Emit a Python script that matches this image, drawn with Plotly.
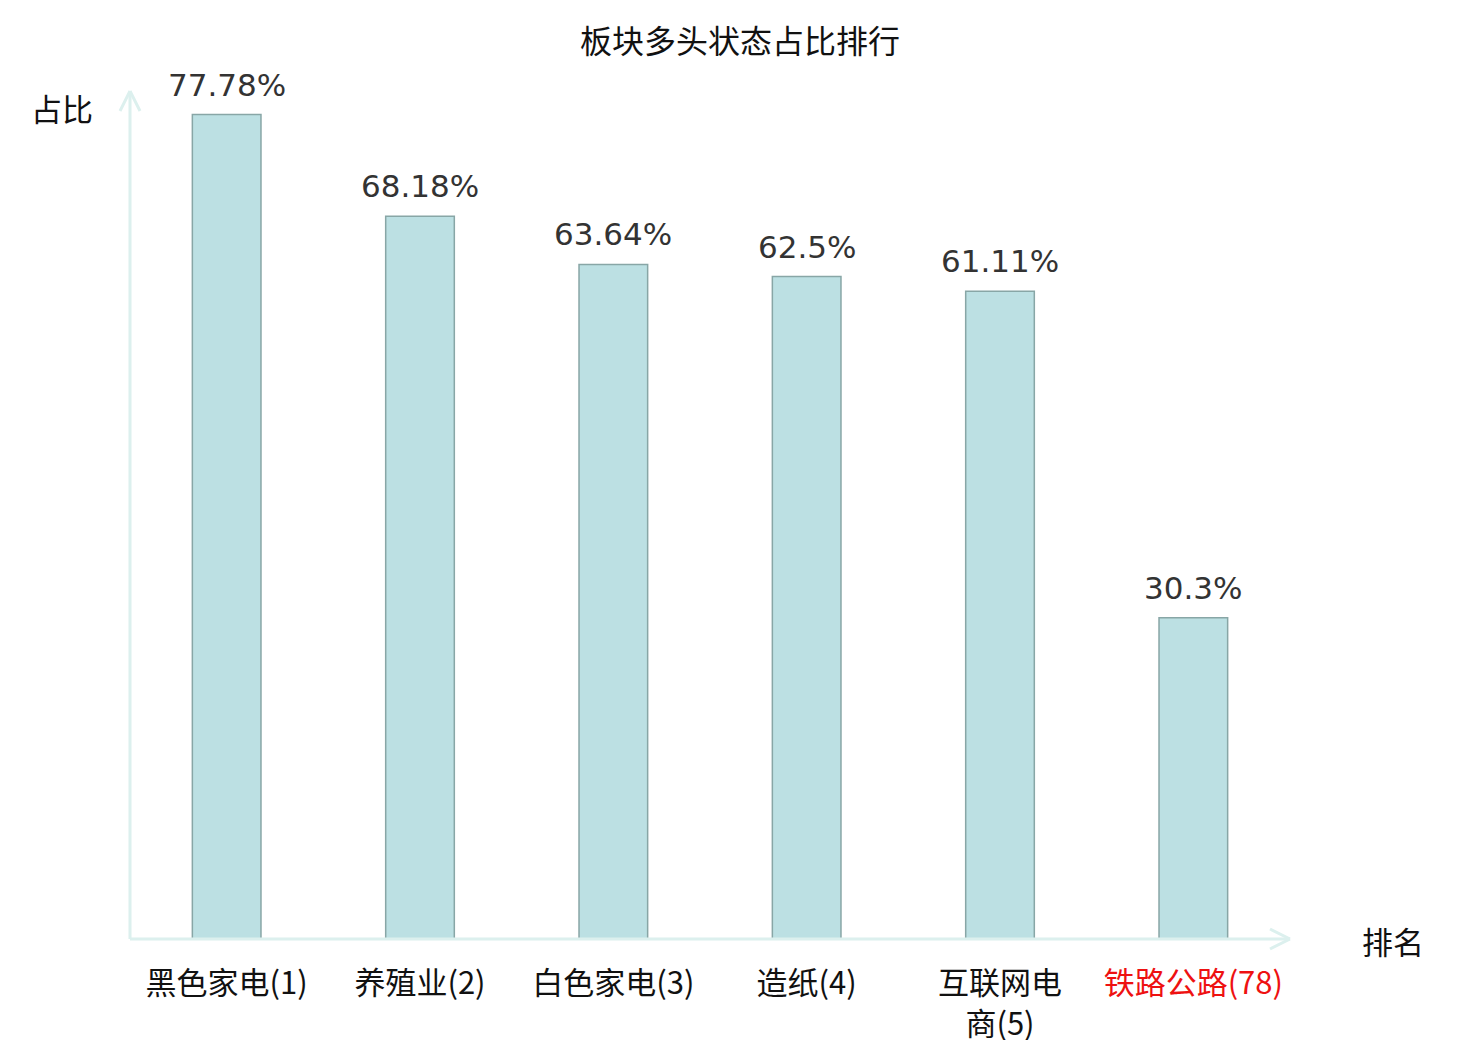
import plotly.graph_objects as go

# 板块多头状态占比排行
sectors = ["黑色家电(1)", "养殖业(2)", "白色家电(3)", "造纸(4)", "互联网电<br>商(5)", "铁路公路(78)"]
ratios = [77.78, 68.18, 63.64, 62.5, 61.11, 30.3]
ratio_labels = ["77.78%", "68.18%", "63.64%", "62.5%", "61.11%", "30.3%"]
highlight = "铁路公路(78)"

AXIS_COLOR = "#dcf0ee"
CJK = "Noto Sans CJK SC"
PAGE = 8  # 页面 body 的默认边距

ticktext = [
    f"<span style='color:#ee1111'>{s}</span>" if s == highlight else s
    for s in sectors
]

fig = go.Figure(
    go.Bar(
        x=sectors,
        y=ratios,
        cliponaxis=False,
        marker=dict(color="#bce0e3", line=dict(color="#88a6a6", width=1.5)),
        hoverinfo="x+y",
    )
)

# 柱顶数值标签
for s, v, lab in zip(sectors, ratios, ratio_labels):
    fig.add_annotation(x=s, y=v, text=lab, showarrow=False, yanchor="bottom",
                       yshift=10, font=dict(family="DejaVu Sans", size=31, color="#333333"))

fig.update_layout(
    width=1480,
    height=1040,
    plot_bgcolor="white",
    paper_bgcolor="white",
    margin=dict(l=130 - PAGE, r=190 + PAGE, t=91 - PAGE, b=101 + PAGE, autoexpand=False),
    bargap=0.645,
    showlegend=False,
    title=dict(
        text="板块多头状态占比排行",
        x=0.5 - PAGE / 1480,
        xref="container",
        xanchor="center",
        y=1 - (42 - PAGE) / 1040,
        yref="container",
        yanchor="middle",
        font=dict(family=CJK, size=32, color="#111111"),
    ),
    font=dict(family=CJK),
)

fig.update_xaxes(
    tickmode="array",
    tickvals=sectors,
    ticktext=ticktext,
    tickfont=dict(family=CJK, size=31, color="#111111"),
    showline=False,
    showgrid=False,
    ticks="outside",
    ticklen=17,
    tickcolor="rgba(0,0,0,0)",
    tickangle=0,
    automargin=False,
)
fig.update_yaxes(range=[0, 80], showticklabels=False, showgrid=False,
                 zeroline=False, showline=False, automargin=False)

# 坐标轴和箭头
line = dict(color=AXIS_COLOR, width=3)
fig.add_shape(type="line", xref="paper", yref="paper", x0=0, y0=0, x1=1, y1=0, line=line)
fig.add_shape(type="line", xref="paper", yref="paper", x0=0, y0=0, x1=0, y1=1, line=line)
for dy in (-10, 10):
    fig.add_shape(type="line", xref="paper", yref="paper",
                  xsizemode="pixel", ysizemode="pixel", xanchor=1, yanchor=0,
                  x0=-20, y0=dy, x1=0, y1=0, line=line)
for dx in (-10, 10):
    fig.add_shape(type="line", xref="paper", yref="paper",
                  xsizemode="pixel", ysizemode="pixel", xanchor=0, yanchor=1,
                  x0=dx, y0=-20, x1=0, y1=0, line=line)

fig.add_annotation(text="占比", xref="paper", yref="paper", x=0, y=1,
                   xanchor="right", yanchor="middle", xshift=-35, yshift=-16,
                   showarrow=False, font=dict(family=CJK, size=31, color="#111111"))
fig.add_annotation(text="排名", xref="paper", yref="paper", x=1, y=0,
                   xanchor="left", yanchor="middle", xshift=70, yshift=-1,
                   showarrow=False, font=dict(family=CJK, size=31, color="#111111"))

fig.write_html("out.html")
